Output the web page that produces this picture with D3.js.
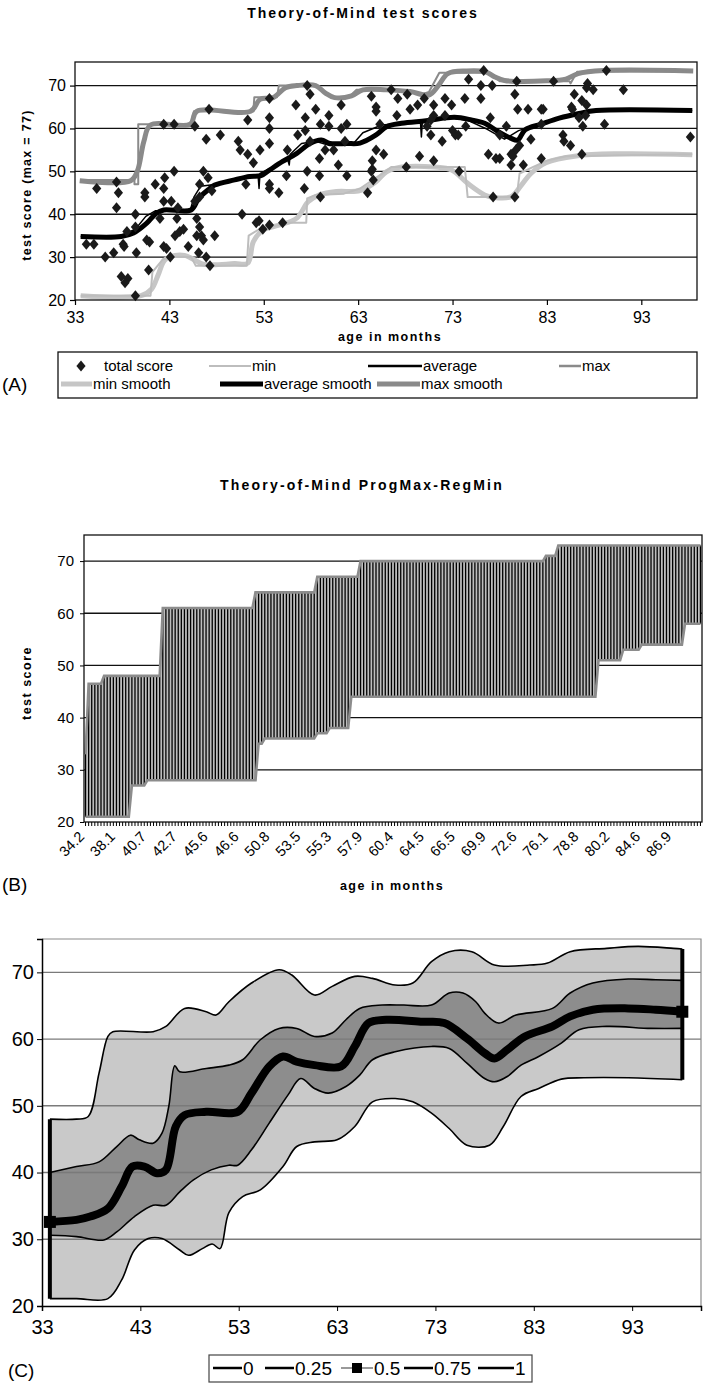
<!DOCTYPE html>
<html>
<head>
<meta charset="utf-8">
<script src="https://cdn.jsdelivr.net/npm/d3@7"></script>
<style>body{margin:0;background:#fff}</style>
</head>
<body>
<svg id="fig" width="704" height="1387"></svg>
<script>
const SANS = "'Liberation Sans', Arial, sans-serif"

// ---- (A) Theory-of-Mind test scores ----
const ageMonths = [
  34.2, 35.0, 35.3, 36.2, 37.1, 37.4, 37.6, 37.4, 38.1, 38.2, 37.9, 38.6, 38.3, 38.5, 39.4, 39.4, 39.4, 39.5, 40.4, 40.4,
  40.6, 40.9, 40.8, 41.5, 42.4, 42.5, 42.4, 42.0, 42.4, 42.7, 43.1, 42.4, 43.5, 43.5, 43.2, 43.9, 43.8, 43.6, 44.1, 44.5,
  45.0, 45.7, 45.9, 46.2, 45.9, 46.4, 46.6, 46.1, 46.9, 47.3, 46.6, 46.2, 47.1, 47.5, 46.9, 48.4, 47.2, 47.8, 46.2, 45.7,
  53.6, 51.3, 53.6, 53.6, 56.4, 57.6, 57.9, 58.5, 57.4, 59.9, 59.0, 59.9, 61.2, 61.8, 61.2, 64.4, 64.9, 64.9, 65.3, 50.3,
  50.5, 51.3, 51.9, 52.6, 53.6, 55.5, 56.6, 57.4, 57.9, 58.9, 59.5, 60.4, 61.6, 60.9, 61.8, 58.9, 57.6, 55.4, 51.1, 53.6,
  53.6, 54.6, 57.3, 59.0, 50.7, 52.5, 52.2, 52.9, 53.6, 55.0, 64.0, 64.5, 64.5, 64.6, 64.4, 65.7, 64.9,
  76.3, 74.7, 76.0, 77.2, 79.8, 79.6, 67.2, 68.2, 66.5, 70.0, 74.3, 76.0, 72.2, 72.9, 71.0, 69.3, 68.5, 67.1, 71.0, 72.2,
  70.7, 77.0, 74.4, 73.0, 73.3, 73.6, 70.7, 71.9, 70.3, 78.0, 79.9, 81.0, 80.1, 79.7, 81.3, 78.7, 76.8, 77.6, 78.0, 79.2,
  79.4, 79.2, 80.5, 82.4, 69.5, 71.0, 68.1, 73.7, 77.3, 79.6, 82.4,
  89.3, 83.7, 87.3, 87.9, 91.1, 87.2, 85.9, 86.7, 87.2, 85.6, 85.7, 82.6, 87.1, 86.4, 86.8, 89.1, 84.7, 84.8, 85.5, 82.4,
  86.7, 98.2
]
const totalScore = [
  33, 33, 46, 30, 31, 47.5, 45, 41.5, 33, 32.5, 25.5, 25, 24, 36, 40, 37, 21, 31, 45, 44,
  34, 33.5, 27, 47, 46, 48.5, 43, 39, 32.5, 32, 30, 61, 61, 50, 43, 41.5, 39, 35, 36, 36.5,
  32.5, 60.5, 39, 37, 35, 35, 34, 31, 30, 28, 50, 47, 48.5, 45.5, 57.5, 58.5, 64.5, 35, 44, 43,
  67, 62, 62.5, 60, 65.5, 70, 68, 64.5, 62.5, 63, 61, 60.5, 65.5, 61, 60, 67.5, 65, 64, 61, 57,
  55, 54, 52, 55, 56.5, 55, 58.5, 59.5, 57, 53, 55, 55, 57, 51.5, 49, 49, 50, 49, 47, 47,
  46, 45, 46, 44, 40, 38.5, 38, 36.5, 37.5, 38, 45, 52.5, 50.5, 48, 50, 54, 55,
  73.5, 71.5, 70, 70, 71, 68, 67, 68, 69, 67, 67, 67, 67, 65.5, 65.5, 65.5, 64.5, 63, 63, 63,
  62, 62.5, 60.5, 59.5, 58.5, 58.5, 58.5, 57, 60.5, 58.5, 64.5, 64.5, 56, 55, 57.5, 60.5, 54, 53, 53, 54,
  53.5, 51.5, 51.5, 53, 53.5, 52.5, 51, 50, 44, 44, 64.5,
  73.5, 71, 70.5, 69, 69, 69.5, 68, 66.5, 65.5, 65, 64.5, 64.5, 63, 62.5, 60.5, 61, 58.5, 57, 56, 61,
  54, 58
]
const minLine = [[33.6, 21], [41, 21], [41.2, 26.5], [42.3, 29.5], [43.5, 30], [45.3, 30], [45.8, 28], [51.2, 28],
  [51.4, 35], [52.5, 36.5], [54.6, 37.5], [55.5, 38], [57.5, 38], [57.6, 43.7], [58.5, 44.5], [61.5, 44.8],
  [63.2, 46], [65.9, 50], [66.5, 51], [74.3, 51], [74.6, 44], [79.8, 44], [80.1, 49.5], [81.5, 51],
  [83, 52.5], [85, 53.5], [98.4, 54]]
const avgLine = [[33.6, 34.8], [37.6, 34.8], [39.4, 36.5], [40.5, 39.5], [41.5, 40.8], [45.2, 40.8], [45.6, 44],
  [46.3, 46.5], [48, 47], [50, 48.2], [51.5, 49], [52.4, 49], [52.5, 46], [52.6, 49.5], [53.5, 50.5], [55.5, 53],
  [55.7, 51.5], [55.8, 54], [57, 56.5], [58.5, 57], [60, 56], [62.5, 56.5], [63.5, 59], [65.5, 60.8],
  [69.6, 61.5], [69.7, 58], [69.8, 61.6], [72.5, 62.5], [74.5, 62], [76.5, 60], [78.5, 57.5], [80, 59.5],
  [82, 61], [84, 62.3], [86.5, 63.8], [88, 64.2], [98.4, 64.2]]
const maxLine = [[33.6, 48], [39.3, 48], [39.3, 47], [39.7, 47], [39.7, 61], [45.3, 61], [45.6, 64], [51.9, 64],
  [52, 67.3], [54.4, 67.3], [54.6, 70], [58.6, 70], [60.2, 67.2], [62, 67.3], [62.8, 69], [67, 69],
  [69.8, 68], [70.5, 68.5], [71.6, 73], [77, 73], [78, 71], [85.4, 71], [85.5, 70.5], [86.2, 73.2], [98.4, 73.4]]
const minSmooth = [[33.6, 21], [40, 21], [41.1, 22.5], [41.8, 25.8], [42.5, 29.3], [43.6, 30.4], [44.6, 30.4],
  [45.7, 29.3], [46.4, 28.5], [47.5, 28.2], [49.9, 28.5], [51.3, 28.6], [51.9, 33.6], [52.9, 36.3], [54.7, 37.5],
  [56.5, 39.1], [57.7, 42.9], [58.9, 44.5], [60.7, 45.3], [63.2, 45.5], [64.9, 47.6], [66, 49.9], [67.6, 51],
  [71.1, 51], [72.9, 50.3], [74.6, 47.2], [76.4, 44.5], [77.4, 43.9], [79.2, 44.1], [80.3, 46.8], [81.3, 49.5],
  [82.9, 52], [86.1, 53.6], [90.7, 54.1], [98.4, 53.9]]
const avgSmooth = [[33.6, 34.8], [37.9, 34.8], [39.2, 35.6], [40.6, 37.9], [41.6, 40.2], [42.4, 41], [45.3, 41],
  [46.1, 43.7], [47.1, 45.7], [47.8, 46.8], [49.9, 48], [51.5, 48.8], [52.7, 49], [53.6, 50.3], [55, 52.3],
  [56.5, 54.2], [57.9, 56.5], [59.1, 57.3], [60, 56.5], [61.8, 56.5], [63.2, 56.6], [64.9, 58.5], [66, 60.4],
  [67.6, 61.2], [70.2, 61.8], [73.2, 62.6], [75, 62], [76.4, 61.2], [77.8, 59.3], [79.2, 57.7], [79.9, 57.3],
  [80.7, 59.7], [82.4, 61], [84.3, 62.4], [86.4, 63.5], [88.2, 64.2], [98.4, 64.2]]
const maxSmooth = [[33.5, 47.8], [38.9, 47.8], [39.6, 50], [40.3, 57], [41, 60.8], [45.2, 61], [45.9, 64],
  [51.6, 64], [52.6, 66.8], [54, 67.2], [55.3, 69.5], [56.5, 70], [58.5, 70], [59.5, 68.3], [60.5, 67.2],
  [62.3, 67.6], [63.5, 69], [66, 69], [68.5, 68.6], [70.5, 67.8], [71.5, 70], [72.5, 72.8], [74.5, 73.4],
  [76.5, 73.2], [77.5, 72], [78.5, 71.2], [83, 71.1], [85, 71.5], [86.3, 72.8], [89, 73.5], [98.5, 73.4]]
const xTicksA = [33, 43, 53, 63, 73, 83, 93]
const yTicks = [20, 30, 40, 50, 60, 70]

// ---- (B) ProgMax-RegMin, runs of [categories, score] ----
const progMaxRuns = [[1, 33], [5, 46.5], [19, 48], [30, 61], [20, 64], [14, 67], [60, 70], [4, 71], [47, 73]]
const regMinRuns = [[15, 21], [5, 27], [36, 28], [2, 35], [17, 36], [4, 37], [7, 38], [80, 44], [8, 51], [6, 53], [14, 54], [6, 58]]
const bTickLabels = ['34.2', '38.1', '40.7', '42.7', '45.6', '46.6', '50.8', '53.5', '55.3', '57.9',
  '60.4', '64.5', '66.5', '69.9', '72.6', '76.1', '78.8', '80.2', '84.6', '86.9']

// ---- (C) quantile bands ----
const q100 = [[33.8, 48], [36.5, 48], [37.7, 48.4], [38.8, 54.9], [39.7, 60.4], [40.2, 61.1], [44.3, 61.1], [45.6, 61.9],
  [47.5, 64.6], [49.7, 64.1], [50.7, 63.6], [52, 65.6], [54.3, 68.4], [57.1, 70.4], [58.4, 69.6], [60.7, 66.6],
  [62.5, 67.9], [64.8, 69.4], [66.6, 69.1], [68.9, 68.1], [70.7, 68.4], [72.6, 71.6], [74.4, 73.1], [76.7, 73.1],
  [79, 71.1], [82.6, 71.1], [84.4, 71.4], [86.7, 73.1], [90.4, 73.6], [93.6, 73.9], [97.2, 73.6], [98.1, 73.5]]
const q75 = [[33.8, 40], [36.5, 40.9], [38.8, 41.6], [40.6, 43.9], [42, 45.6], [42.9, 44.9], [44.3, 44.4], [45.2, 45.9],
  [45.9, 50], [46.5, 56], [47, 55.1], [49.7, 55.6], [52, 56.1], [53.4, 56.9], [55.2, 59.9], [57.1, 61.6],
  [58.9, 61.6], [60.7, 60.4], [62.5, 60.9], [63.9, 62.9], [65.3, 64.6], [67.6, 65.1], [69.8, 65.1], [72.6, 65.1],
  [74.4, 66.9], [75.8, 66.9], [77.1, 65.6], [78, 63.9], [79.4, 62.4], [81.2, 63.6], [84.9, 64.6], [86.7, 66.9],
  [89, 68.4], [92.6, 69], [95.4, 68.9], [98.1, 68.8]]
const q50 = [[33.8, 32.6], [36.5, 32.9], [37.9, 33.4], [39.7, 34.6], [41.1, 37.9], [42.2, 40.9], [43.4, 40.9],
  [44.7, 39.9], [45.6, 40.4], [46.6, 46.9], [47.5, 48.6], [49.7, 49.1], [52.9, 49.1], [54.3, 51.9], [56.1, 55.9],
  [57.5, 57.4], [58.9, 56.6], [60.7, 56.1], [63.4, 55.9], [64.8, 58.9], [66.2, 62.4], [68, 62.9], [71.7, 62.6],
  [73.9, 62.4], [76.2, 60.1], [78, 57.9], [79, 57.1], [80.3, 58.4], [82.1, 60.4], [84.9, 61.9], [86.7, 63.4],
  [89, 64.4], [92.6, 64.6], [95.4, 64.4], [98.1, 64.1]]
const q25 = [[33.8, 30.6], [36.5, 30.4], [39.3, 29.9], [40.6, 31.1], [42.4, 33.4], [44.3, 35.1], [45.6, 35.1],
  [47, 37.1], [48.4, 38.9], [50.2, 40.4], [52, 41.1], [52.9, 41.1], [54.3, 43.4], [56.1, 47.4], [58, 51.6],
  [59.3, 54.1], [60.7, 52.6], [62.1, 51.9], [63.9, 52.9], [65.3, 54.6], [66.6, 56.9], [68.9, 58.1], [72.6, 58.9],
  [74.4, 58.6], [76.2, 56.4], [78, 54.1], [79, 53.6], [80.3, 54.4], [81.7, 56.1], [83.5, 57.4], [85.8, 59.4],
  [87.6, 61.4], [90.4, 61.9], [94.9, 61.6], [98.1, 61.6]]
const q0 = [[33.8, 21.1], [36.5, 21.1], [39.7, 21.1], [41.1, 23.9], [42.4, 28.4], [43.8, 30.1], [45.2, 30.1],
  [47, 28.4], [47.9, 27.6], [49.3, 28.6], [50.3, 29.3], [51.1, 28.6], [52, 34], [53.4, 36.4], [55.2, 37.4],
  [57.5, 40.9], [58.9, 43.9], [60.7, 44.6], [63, 44.9], [64.8, 46.9], [66.6, 50.6], [68.9, 51.1], [70.7, 50.6],
  [72.6, 48.9], [74.4, 46.6], [76.2, 44.1], [78.5, 44.1], [79.9, 46.9], [81.7, 51.4], [83.5, 52.6], [85.8, 54],
  [88.1, 54.2], [92.6, 54.2], [98.1, 53.9]]
const xTicksC = [33, 43, 53, 63, 73, 83, 93]
const legendC = ['0', '0.25', '0.5', '0.75', '1']

const svg = d3.select('#fig')

function plainAxis(g, size) {
  g.select('.domain').remove()
  g.selectAll('.tick line').attr('stroke', '#000').attr('stroke-width', 1.2)
  g.selectAll('text').attr('font-family', SANS).attr('font-size', size).attr('fill', '#000')
}

function boldText(g, x, y, str, size, spacing, rotate) {
  return g.append('text')
    .attr('transform', `translate(${x},${y})` + (rotate ? ' rotate(-90)' : ''))
    .attr('text-anchor', 'middle')
    .attr('font-family', SANS).attr('font-weight', 'bold')
    .attr('font-size', size).attr('letter-spacing', spacing)
    .text(str)
}

// ================= chart A =================
const ax = d3.scaleLinear().domain([33, 98.9]).range([75, 697])
const ay = d3.scaleLinear().domain([20, 75.5]).range([300, 62])
const gA = svg.append('g')

boldText(gA, 363, 18, 'Theory-of-Mind test scores', 14, 2)

gA.append('g').selectAll('line').data(yTicks.slice(1)).join('line')
  .attr('x1', ax.range()[0]).attr('x2', ax.range()[1])
  .attr('y1', d => ay(d)).attr('y2', d => ay(d))
  .attr('stroke', '#111').attr('stroke-width', 1.3)

const lineA = d3.line().x(d => ax(d[0])).y(d => ay(d[1]))
const smoothA = d3.line().x(d => ax(d[0])).y(d => ay(d[1])).curve(d3.curveCatmullRom.alpha(0.5))

const seriesA = [
  { data: minSmooth, color: '#c6c6c6', w: 5, gen: smoothA },
  { data: avgSmooth, color: '#000', w: 5, gen: smoothA },
  { data: maxSmooth, color: '#8a8a8a', w: 5, gen: smoothA },
  { data: minLine, color: '#bdbdbd', w: 2, gen: lineA },
  { data: avgLine, color: '#000', w: 1.5, gen: lineA },
  { data: maxLine, color: '#8a8a8a', w: 2, gen: lineA }
]
gA.append('g').selectAll('path').data(seriesA).join('path')
  .attr('d', s => s.gen(s.data))
  .attr('fill', 'none').attr('stroke', s => s.color).attr('stroke-width', s => s.w)
  .attr('stroke-linejoin', 'round')

const diamond = 'M0,-5.5L4.6,0L0,5.5L-4.6,0Z'
gA.append('g').selectAll('path').data(ageMonths).join('path')
  .attr('d', diamond)
  .attr('transform', (d, i) => `translate(${ax(d)},${ay(totalScore[i])})`)
  .attr('fill', '#1a1a1a')

gA.append('rect')
  .attr('x', ax.range()[0]).attr('y', ay.range()[1])
  .attr('width', ax.range()[1] - ax.range()[0]).attr('height', ay.range()[0] - ay.range()[1])
  .attr('fill', 'none').attr('stroke', '#111').attr('stroke-width', 1.3)

gA.append('g').attr('transform', `translate(${ax.range()[0]},0)`)
  .call(d3.axisLeft(ay).tickValues(yTicks).tickSize(5).tickPadding(4))
  .call(plainAxis, 16)
gA.append('g').attr('transform', `translate(0,${ay.range()[0]})`)
  .call(d3.axisBottom(ax).tickValues(xTicksA).tickSize(5).tickPadding(7))
  .call(plainAxis, 16)

boldText(gA, 390, 341, 'age in months', 12.5, 1.5)
boldText(gA, 31, 185, 'test score (max = 77)', 12.5, 1.3, true)

// legend A
const legA = gA.append('g')
legA.append('rect').attr('x', 58).attr('y', 352).attr('width', 639).attr('height', 46)
  .attr('fill', '#fff').attr('stroke', '#111').attr('stroke-width', 1.3)
legA.append('path').attr('d', diamond).attr('transform', 'translate(81,366)').attr('fill', '#1a1a1a')
const legItemsA = [
  { x0: 209, x1: 251, y: 366, color: '#bdbdbd', w: 2, label: 'min' },
  { x0: 368, x1: 422, y: 366, color: '#000', w: 2.5, label: 'average' },
  { x0: 559, x1: 581, y: 366, color: '#8a8a8a', w: 2.5, label: 'max' },
  { x0: 61, x1: 92, y: 384, color: '#c6c6c6', w: 5, label: 'min smooth' },
  { x0: 220, x1: 263, y: 384, color: '#000', w: 5, label: 'average smooth' },
  { x0: 377, x1: 420, y: 384, color: '#8a8a8a', w: 5, label: 'max smooth' }
]
legA.selectAll('line').data(legItemsA).join('line')
  .attr('x1', d => d.x0).attr('x2', d => d.x1).attr('y1', d => d.y).attr('y2', d => d.y)
  .attr('stroke', d => d.color).attr('stroke-width', d => d.w)
legA.selectAll('text.lab').data([{ x1: 103, y: 366, label: 'total score' }, ...legItemsA]).join('text')
  .attr('class', 'lab')
  .attr('x', d => d.x1 + 1).attr('y', d => d.y).attr('dy', '0.35em')
  .attr('font-family', SANS).attr('font-size', 15).text(d => d.label)

svg.append('text').attr('x', 2).attr('y', 391).attr('font-family', SANS).attr('font-size', 19).text('(A)')

// ================= chart B =================
const expand = runs => runs.flatMap(([n, v]) => Array(n).fill(v))
const progMax = expand(progMaxRuns)
const regMin = expand(regMinRuns)
const bx = d3.scaleBand().domain(d3.range(progMax.length)).range([84, 702])
const by = d3.scaleLinear().domain([20, 75]).range([822, 535])
const bc = i => bx(i) + bx.bandwidth() / 2
const gB = svg.append('g')

boldText(gB, 362, 490, 'Theory-of-Mind ProgMax-RegMin', 14, 2.2)

gB.append('g').selectAll('line').data(yTicks.slice(1)).join('line')
  .attr('x1', bx.range()[0]).attr('x2', bx.range()[1])
  .attr('y1', d => by(d)).attr('y2', d => by(d))
  .attr('stroke', '#111').attr('stroke-width', 1.3)

gB.append('path')
  .datum(progMax)
  .attr('d', d3.area().x((d, i) => bc(i)).y0((d, i) => by(regMin[i])).y1(d => by(d)))
  .attr('fill', '#bdbdbd')

gB.append('g').selectAll('line').data(progMax).join('line')
  .attr('x1', (d, i) => bc(i)).attr('x2', (d, i) => bc(i))
  .attr('y1', d => by(d)).attr('y2', (d, i) => by(regMin[i]))
  .attr('stroke', '#000').attr('stroke-width', 1.3)

const lineB = d3.line().x((d, i) => bc(i)).y(d => by(d))
gB.append('g').selectAll('path').data([progMax, regMin]).join('path')
  .attr('d', lineB).attr('fill', 'none').attr('stroke', '#8c8c8c').attr('stroke-width', 2.6)

gB.append('rect')
  .attr('x', bx.range()[0]).attr('y', by.range()[1])
  .attr('width', bx.range()[1] - bx.range()[0]).attr('height', by.range()[0] - by.range()[1])
  .attr('fill', 'none').attr('stroke', '#111').attr('stroke-width', 1.3)

gB.append('g').attr('transform', `translate(${bx.range()[0]},0)`)
  .call(d3.axisLeft(by).tickValues(yTicks).tickSize(4).tickPadding(6))
  .call(plainAxis, 15)
gB.append('g').attr('transform', `translate(0,${by.range()[0]})`)
  .call(d3.axisBottom(bx).tickSize(4).tickFormat(''))
  .call(plainAxis, 13)
gB.selectAll('.tick line').attr('stroke-width', 1)

gB.append('g').selectAll('text').data(bTickLabels).join('text')
  .attr('transform', (d, k) => `translate(${bc(k * 10) - 4},${by.range()[0] + 12}) rotate(-45)`)
  .attr('text-anchor', 'end').attr('dy', '0.35em')
  .attr('font-family', SANS).attr('font-size', 14.5).attr('fill', '#000').text(d => d)

boldText(gB, 392, 890, 'age in months', 12.5, 1.5)
boldText(gB, 31, 683, 'test score', 12.5, 1.5, true)
svg.append('text').attr('x', 2).attr('y', 891).attr('font-family', SANS).attr('font-size', 19).text('(B)')

// ================= chart C =================
const cx = d3.scaleLinear().domain([33, 100]).range([42, 701])
const cy = d3.scaleLinear().domain([20, 75]).range([1306, 939])
const gC = svg.append('g')
const curveC = d3.line().x(d => cx(d[0])).y(d => cy(d[1])).curve(d3.curveCatmullRom.alpha(0.5))
const band = (upper, lower) => curveC(upper) + curveC(lower.slice().reverse()).replace('M', 'L') + 'Z'

gC.append('path').attr('d', band(q100, q0)).attr('fill', '#c9c9c9')
gC.append('path').attr('d', band(q75, q25)).attr('fill', '#8d8d8d')

gC.append('g').selectAll('line').data(yTicks.slice(1)).join('line')
  .attr('x1', cx.range()[0]).attr('x2', cx.range()[1])
  .attr('y1', d => cy(d)).attr('y2', d => cy(d))
  .attr('stroke', '#7a7a7a').attr('stroke-width', 1.4)

gC.append('g').selectAll('path').data([q0, q25, q75, q100]).join('path')
  .attr('d', curveC).attr('fill', 'none').attr('stroke', '#000').attr('stroke-width', 1.6)

// closing edges of the band at first and last age
const ends = [[q0[0], q100[0]], [q0[q0.length - 1], q100[q100.length - 1]]]
gC.append('g').selectAll('line').data(ends).join('line')
  .attr('x1', d => cx(d[0][0])).attr('x2', d => cx(d[1][0]))
  .attr('y1', d => cy(d[0][1])).attr('y2', d => cy(d[1][1]))
  .attr('stroke', '#000').attr('stroke-width', 4)

gC.append('path').attr('d', curveC(q50)).attr('fill', 'none')
  .attr('stroke', '#000').attr('stroke-width', 8)
gC.append('g').selectAll('rect').data([q50[0], q50[q50.length - 1]]).join('rect')
  .attr('x', d => cx(d[0]) - 6).attr('y', d => cy(d[1]) - 6)
  .attr('width', 12).attr('height', 12).attr('fill', '#000')

gC.append('path')
  .attr('d', `M${cx.range()[0]},${cy.range()[1]}H${cx.range()[1]}V${cy.range()[0]}`)
  .attr('fill', 'none').attr('stroke', '#8a8a8a').attr('stroke-width', 1.2)
gC.append('g').attr('transform', `translate(${cx.range()[0]},0)`)
  .call(d3.axisLeft(cy).tickValues(yTicks).tickSize(5).tickPadding(3))
  .call(g => g.select('.domain').attr('stroke', '#000').attr('stroke-width', 1.5))
  .call(g => g.selectAll('text').attr('font-family', SANS).attr('font-size', 20).attr('fill', '#000'))
gC.append('g').attr('transform', `translate(0,${cy.range()[0]})`)
  .call(d3.axisBottom(cx).tickValues(xTicksC).tickSize(5).tickPadding(9))
  .call(g => g.select('.domain').attr('stroke', '#000').attr('stroke-width', 1.5))
  .call(g => g.selectAll('text').attr('font-family', SANS).attr('font-size', 20).attr('fill', '#000'))

// legend C
const legC = gC.append('g')
legC.append('rect').attr('x', 209).attr('y', 1355).attr('width', 323).attr('height', 27)
  .attr('fill', '#fff').attr('stroke', '#444').attr('stroke-width', 1.2)
const legPosC = [[213, 242], [265, 294], [341, 373], [404, 433], [478, 514]]
legC.selectAll('line').data(legendC).join('line')
  .attr('x1', (d, i) => legPosC[i][0]).attr('x2', (d, i) => legPosC[i][1])
  .attr('y1', 1368).attr('y2', 1368)
  .attr('stroke', d => d === '0.5' ? '#777' : '#000').attr('stroke-width', d => d === '0.5' ? 1.5 : 2.5)
legC.append('rect').attr('x', 352).attr('y', 1363).attr('width', 10).attr('height', 10).attr('fill', '#000')
legC.selectAll('text').data(legendC).join('text')
  .attr('x', (d, i) => legPosC[i][1] + 1).attr('y', 1368).attr('dy', '0.35em')
  .attr('font-family', SANS).attr('font-size', 19).text(d => d)

svg.append('text').attr('x', 8).attr('y', 1377).attr('font-family', SANS).attr('font-size', 19).text('(C)')
</script>
</body>
</html>
